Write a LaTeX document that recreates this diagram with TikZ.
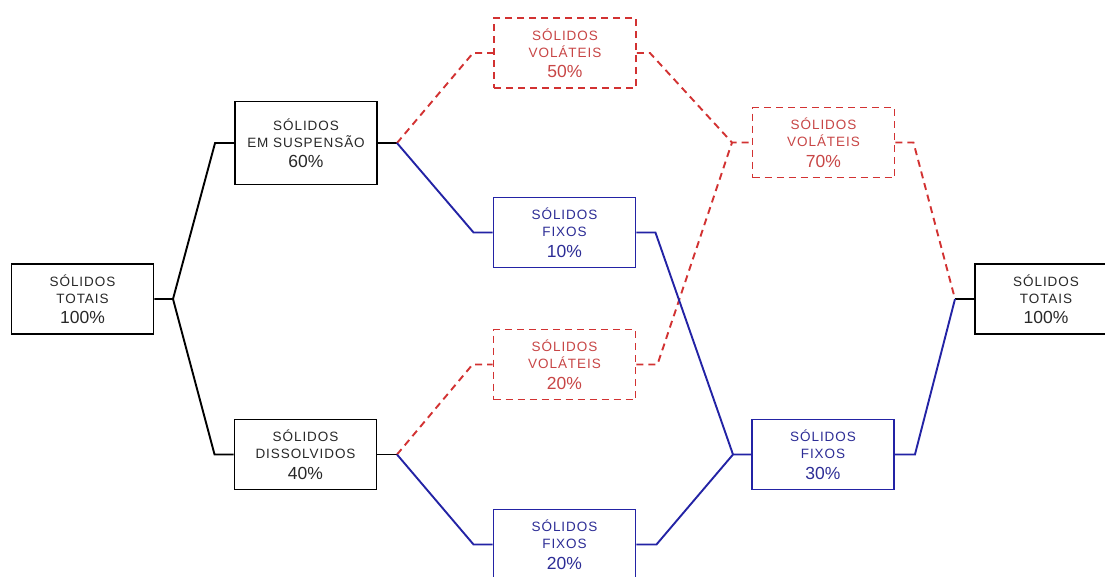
\documentclass[tikz,border=0pt]{standalone}
\usepackage{fontspec}
\setmainfont{Liberation Sans}
\newfontfamily\lblfont[LetterSpace=7]{Liberation Sans}
\definecolor{redc}{RGB}{210,50,50}
\definecolor{redt}{RGB}{200,70,70}
\definecolor{bluec}{RGB}{35,35,165}
\definecolor{bluet}{RGB}{45,45,150}
\definecolor{grayt}{RGB}{40,40,40}
\newcommand{\boxtxt}[3]{#1\\#2\\[3.5pt]{\fontsize{17.5}{20}\rmfamily #3}}
\begin{document}
\begin{tikzpicture}[x=1pt,y=-1pt,
  basebox/.style={rectangle, inner sep=0pt, minimum width=142pt, minimum height=70pt, align=center, line width=1.9pt, fill=white, font={\fontsize{13.5}{17}\lblfont}},
  bbox/.style={basebox, draw=black, text=grayt},
  ubox/.style={basebox, draw=bluec, text=bluet},
  rbox/.style={basebox, draw=redc, text=redt, dash pattern=on 7pt off 5pt},
  blk/.style={draw=black, line width=1.9pt},
  blu/.style={draw=bluec, line width=1.9pt},
  rdl/.style={draw=redc, line width=1.9pt, dash pattern=on 7pt off 5pt}]
\useasboundingbox (0,0) rectangle (1105,576);
\clip (0,0) rectangle (1105,576);
\node[bbox] (tot1) at (82.5,299) {\boxtxt{SÓLIDOS}{TOTAIS}{100\%}};
\node[bbox, minimum height=83pt] (es) at (306,143) {\boxtxt{SÓLIDOS}{EM SUSPENSÃO}{60\%}};
\node[bbox] (dis) at (305.5,454.5) {\boxtxt{SÓLIDOS}{DISSOLVIDOS}{40\%}};
\node[rbox] (v50) at (565,53) {\boxtxt{SÓLIDOS}{VOLÁTEIS}{50\%}};
\node[ubox] (f10) at (564.5,232.5) {\boxtxt{SÓLIDOS}{FIXOS}{10\%}};
\node[rbox] (v20) at (564.5,364.5) {\boxtxt{SÓLIDOS}{VOLÁTEIS}{20\%}};
\node[ubox] (f20) at (564.5,544.5) {\boxtxt{SÓLIDOS}{FIXOS}{20\%}};
\node[rbox] (v70) at (823.5,142.5) {\boxtxt{SÓLIDOS}{VOLÁTEIS}{70\%}};
\node[ubox] (f30) at (823,454.5) {\boxtxt{SÓLIDOS}{FIXOS}{30\%}};
\node[bbox] (tot2) at (1046,299) {\boxtxt{SÓLIDOS}{TOTAIS}{100\%}};
% junctions
\coordinate (jL) at (173,299);
\coordinate (jS) at (397,143);
\coordinate (jD) at (397,454.5);
\coordinate (jV) at (732,142.5);
\coordinate (jF) at (733,454.5);
\coordinate (jR) at (955,299);
% black
\draw[blk] (tot1.east) -- (jL) -- ([xshift=-19pt]es.west) -- (es.west);
\draw[blk] (jL) -- ([xshift=-19pt]dis.west) -- (dis.west);
\draw[blk] (es.east) -- (jS);
\draw[blk] (dis.east) -- (jD);
\draw[blk] (jR) -- (tot2.west);
% red dashed
\draw[rdl] (jS) -- ([xshift=-20pt]v50.west) -- (v50.west);
\draw[rdl] (jD) -- ([xshift=-20pt]v20.west) -- (v20.west);
\draw[rdl] (v50.east) -- ([xshift=13pt]v50.east) -- (jV) -- (v70.west);
\draw[rdl] (v20.east) -- ([xshift=21pt]v20.east) -- (jV);
\draw[rdl] (v70.east) -- ([xshift=18pt]v70.east) -- (jR);
% blue
\draw[blu] (jS) -- ([xshift=-19pt]f10.west) -- (f10.west);
\draw[blu] (jD) -- ([xshift=-19pt]f20.west) -- (f20.west);
\draw[blu] (f10.east) -- ([xshift=19pt]f10.east) -- (jF) -- (f30.west);
\draw[blu] (f20.east) -- ([xshift=20pt]f20.east) -- (jF);
\draw[blu] (f30.east) -- ([xshift=20pt]f30.east) -- (jR);
\end{tikzpicture}
\end{document}
